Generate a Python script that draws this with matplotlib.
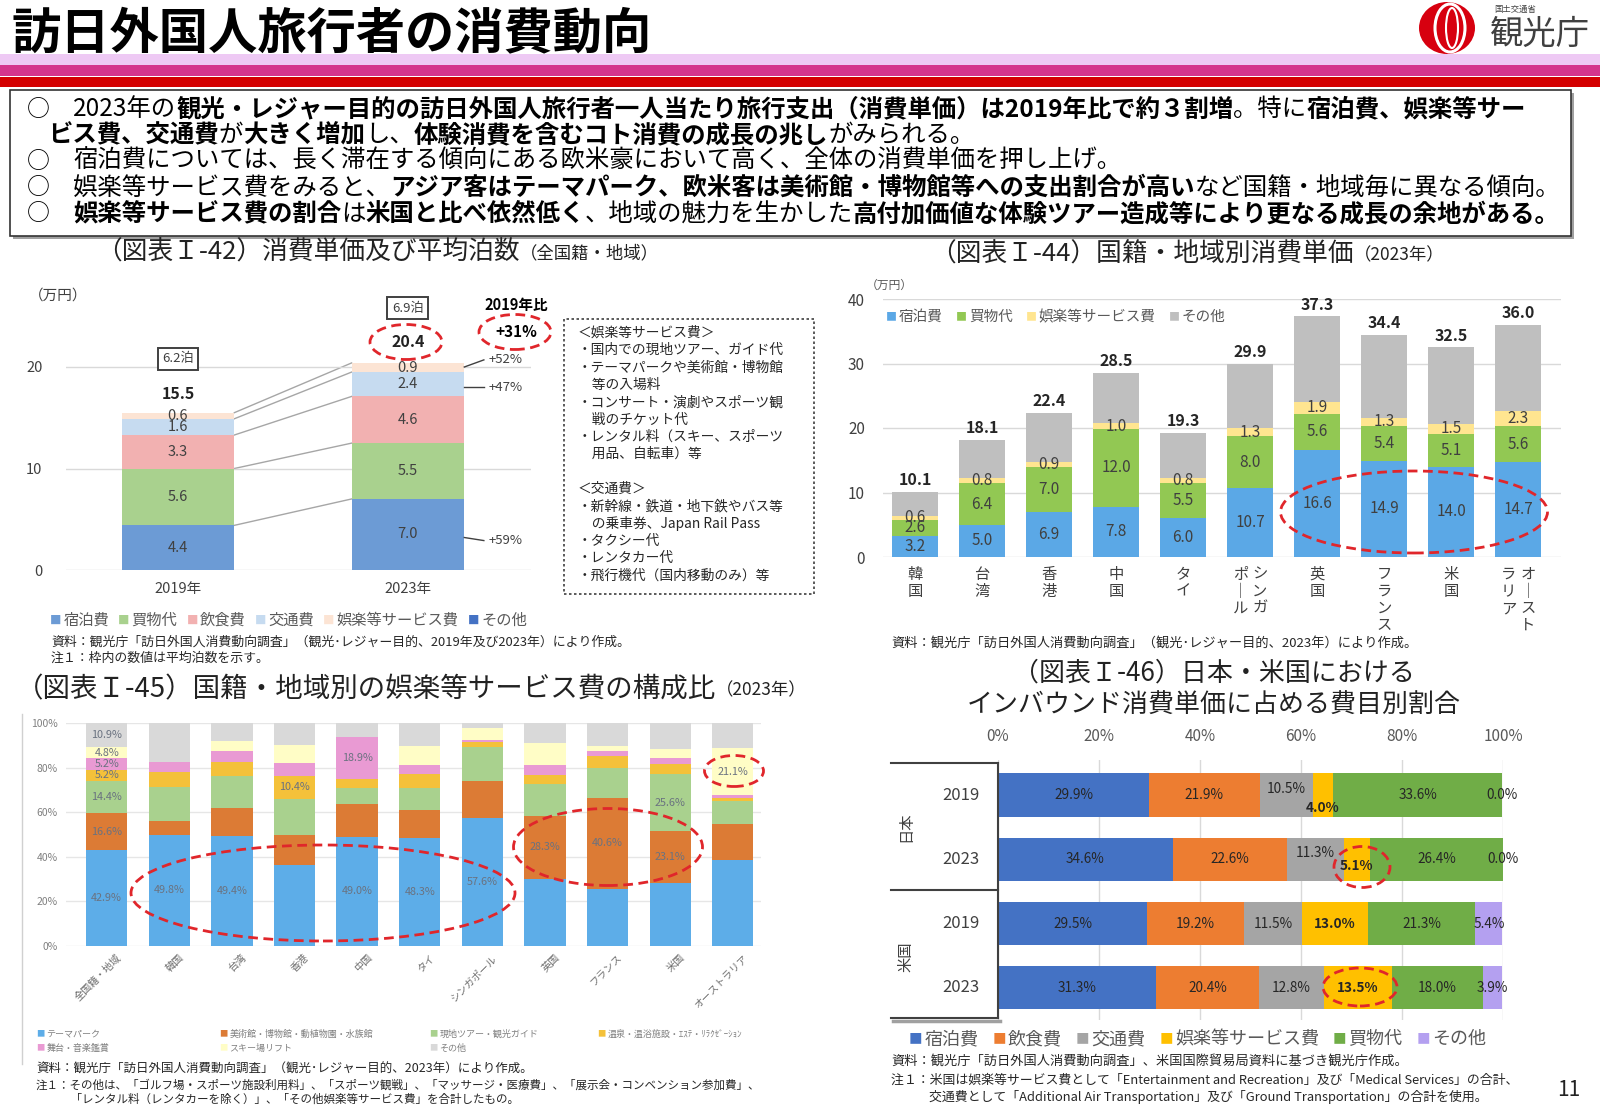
import numpy as np
import matplotlib
matplotlib.use('Agg')
import matplotlib.pyplot as plt
from matplotlib.patches import Rectangle, Ellipse
from matplotlib.lines import Line2D

plt.rcParams['font.family'] = ['Noto Sans CJK JP', 'DejaVu Sans']

# ---- data: chart I-42 (万円)
years42 = ['2019年', '2023年']
names42 = ['宿泊費', '買物代', '飲食費', '交通費', '娯楽等サービス費', 'その他']
stay42 = [4.4, 7.0]
shop42 = [5.6, 5.5]
food42 = [3.3, 4.6]
trans42 = [1.6, 2.4]
ent42 = [0.6, 0.9]
other42 = [0.0, 0.0]
total42 = [15.5, 20.4]
nights42 = ['6.2泊', '6.9泊']

# ---- data: chart I-44 (万円, 2023)
countries44 = ['韓国', '台湾', '香港', '中国', 'タイ', 'シンガポール', '英国', 'フランス', '米国', 'オーストラリア']
tate44 = [['韓国'], ['台湾'], ['香港'], ['中国'], ['タイ'], ['シンガ', 'ポール'], ['英国'], ['フランス'], ['米国'], ['オースト', 'ラリア']]
names44 = ['宿泊費', '買物代', '娯楽等サービス費', 'その他']
stay44 = [3.2, 5.0, 6.9, 7.8, 6.0, 10.7, 16.6, 14.9, 14.0, 14.7]
shop44 = [2.6, 6.4, 7.0, 12.0, 5.5, 8.0, 5.6, 5.4, 5.1, 5.6]
ent44 = [0.6, 0.8, 0.9, 1.0, 0.8, 1.3, 1.9, 1.3, 1.5, 2.3]
total44 = [10.1, 18.1, 22.4, 28.5, 19.3, 29.9, 37.3, 34.4, 32.5, 36.0]

# ---- data: chart I-45 (%, 2023)
cats45 = ['全国籍・地域', '韓国', '台湾', '香港', '中国', 'タイ', 'シンガポール', '英国', 'フランス', '米国', 'オーストラリア']
names45 = ['テーマパーク', '美術館・博物館・動植物園・水族館', '現地ツアー・観光ガイド',
           '温泉・温浴施設・ｴｽﾃ・ﾘﾗｸｾﾞｰｼｮﾝ', '舞台・音楽鑑賞', 'スキー場リフト', 'その他']
theme45 = [42.9, 49.8, 49.4, 36.3, 49.0, 48.3, 57.6, 30.2, 25.7, 28.4, 38.5]
museum45 = [16.6, 6.2, 12.5, 13.7, 14.7, 12.7, 16.6, 28.3, 40.6, 23.1, 16.0]
tour45 = [14.4, 15.5, 14.2, 16.0, 7.2, 10.0, 14.9, 14.2, 13.6, 25.6, 10.4]
onsen45 = [5.2, 6.7, 6.3, 10.4, 4.0, 6.0, 2.2, 4.2, 5.2, 4.5, 1.5]
stage45 = [5.2, 4.2, 4.9, 5.7, 18.9, 4.0, 0.9, 4.1, 2.2, 2.7, 1.1]
ski45 = [4.8, 0.3, 4.5, 8.2, 0.0, 8.6, 5.6, 10.0, 2.3, 4.1, 21.1]
other45 = [10.9, 17.3, 8.2, 9.7, 6.2, 10.4, 2.2, 9.0, 10.4, 11.6, 11.4]
# (bar, series) pairs that carry a value label
shown45 = [(0, 0), (0, 1), (0, 2), (0, 3), (0, 4), (0, 5), (0, 6), (1, 0), (2, 0), (3, 3), (4, 0), (4, 4),
           (5, 0), (6, 0), (7, 1), (8, 1), (9, 1), (9, 2), (10, 5)]

# ---- data: chart I-46 (%)
groups46 = ['日本', '米国']
rows46 = ['2019', '2023', '2019', '2023']
names46 = ['宿泊費', '飲食費', '交通費', '娯楽等サービス費', '買物代', 'その他']
stay46 = [29.9, 34.6, 29.5, 31.3]
food46 = [21.9, 22.6, 19.2, 20.4]
trans46 = [10.5, 11.3, 11.5, 12.8]
ent46 = [4.0, 5.1, 13.0, 13.5]
shop46 = [33.6, 26.4, 21.3, 18.0]
other46 = [0.0, 0.0, 5.4, 3.9]

W, H = 1600, 1108
fig = plt.figure(figsize=(16, 11.08), dpi=100)
R = fig.canvas.get_renderer()
RED = '#E0262B'
DARK = '#404040'


def T(x, y, s, **kw):
    kw.setdefault('va', 'center')
    return fig.text(x / W, 1 - y / H, s, **kw)


def rich(x, y, parts, size, color='black'):
    for p in parts:
        s, b = p[0], p[1]
        sz = p[2] if len(p) > 2 else size
        t = T(x, y, s, fontsize=sz, fontweight='bold' if b else 'normal', color=color)
        x += t.get_window_extent(R).width
    return x


def legend_item(x, y, lab, col, size, tc='#595959', sq=None):
    t = T(x, y, '■', fontsize=sq or size * 0.75, color=col)
    x += t.get_window_extent(R).width + 2
    t = T(x, y, lab, fontsize=size, color=tc)
    return x + t.get_window_extent(R).width


def legend_row(x, y, labs, cols, size, gap, tc='#595959'):
    for lab, col in zip(labs, cols):
        x = legend_item(x, y, lab, col, size, tc) + gap


def rect(x0, y0, x1, y1, **kw):
    fig.add_artist(Rectangle((x0 / W, 1 - y1 / H), (x1 - x0) / W, (y1 - y0) / H,
                             transform=fig.transFigure, **kw))


def line(xs, ys, **kw):
    fig.add_artist(Line2D([x / W for x in xs], [1 - y / H for y in ys], transform=fig.transFigure, **kw))


def ell(cx, cy, w, h, lw=2.0):
    fig.add_artist(Ellipse((cx / W, 1 - cy / H), w / W, h / H, transform=fig.transFigure,
                           fill=False, ec=RED, ls=(0, (3.5, 2)), lw=lw, zorder=10))


# ================= header
rect(0, 54, W, 65, fc='#EEC9F4', ec='none')
rect(0, 65, W, 76, fc='#D4358C', ec='none')
rect(0, 77, W, 87, fc='#D40000', ec='none')
T(12, 34, '訪日外国人旅行者の消費動向', fontsize=35.5, fontweight='bold', zorder=5)
fig.add_artist(Ellipse((1447 / W, 1 - 28 / H), 56 / W, 52 / H, transform=fig.transFigure, fc='#D7000F', ec='none'))
fig.add_artist(Ellipse((1450 / W, 1 - 28 / H), 30 / W, 48 / H, transform=fig.transFigure, fill=False, ec='white', lw=2.2))
fig.add_artist(Ellipse((1452 / W, 1 - 28 / H), 12 / W, 40 / H, transform=fig.transFigure, fill=False, ec='white', lw=1.5))
T(1494, 9, '国土交通省', fontsize=6, color='#404040')
T(1490, 34, '観光庁', fontsize=24, color='#404040')

# ================= summary box
rect(13, 93, 1574, 239, fc='#A0A0A0', ec='none')
rect(10, 90, 1571, 236, fc='white', ec='#333333', lw=1.2)
bx = 73
box_lines = [
    (109, True, [('2023年の', False), ('観光・レジャー目的の訪日外国人旅行者一人当たり旅行支出（消費単価）は2019年比で約３割増', True),
                 ('。特に', False), ('宿泊費、娯楽等サー', True)]),
    (135, False, [('ビス費、交通費', True), ('が', False), ('大きく増加', True), ('し、', False),
                  ('体験消費を含むコト消費の成長の兆し', True), ('がみられる。', False)]),
    (161, True, [('宿泊費については、長く滞在する傾向にある欧米豪において高く、全体の消費単価を押し上げ。', False)]),
    (188, True, [('娯楽等サービス費をみると、', False), ('アジア客はテーマパーク、欧米客は美術館・博物館等への支出割合が高い', True),
                 ('など国籍・地域毎に異なる傾向。', False)]),
    (214, True, [('娯楽等サービス費の割合', True), ('は', False), ('米国と比べ依然低く', True), ('、地域の魅力を生かした', False),
                 ('高付加価値な体験ツアー造成等により更なる成長の余地がある。', True)]),
]
for y, bullet, parts in box_lines:
    if bullet:
        T(27, y, '○', fontsize=16.5)
        rich(bx, y, parts, 17.6)
    else:
        rich(48, y, parts, 17.6)

# ================= chart I-42
rich(96, 253, [('（図表Ｉ-42）消費単価及び平均泊数', False, 18.5), ('（全国籍・地域）', False, 12.5)], 18.5, color='#222222')
ax1 = fig.add_axes([66 / W, 1 - 570 / H, 465 / W, 243.6 / H])
x42 = np.arange(len(years42))
cols42 = ['#6C9BD5', '#A9D18E', '#F2B1B1', '#C6DBF0', '#FCE4D4', '#4472C4']
bw = 0.49
bottom = np.zeros(len(x42))
tops = []
for vals, c in zip([stay42, shop42, food42, trans42, ent42, other42], cols42):
    vals = np.array(vals)
    ax1.bar(x42, vals, bw, bottom=bottom, color=c, zorder=2)
    for i in range(len(x42)):
        if vals[i] > 0:
            ax1.text(x42[i], bottom[i] + vals[i] / 2, f'{vals[i]:.1f}', ha='center', va='center',
                     fontsize=10.5, color=DARK, zorder=3)
    bottom = bottom + vals
    tops.append(bottom.copy())
for b in tops[:5]:
    ax1.plot([bw / 2, 1 - bw / 2], [b[0], b[1]], color='#A6A6A6', lw=1, zorder=1)
ax1.set_ylim(0, 24)
ax1.set_xlim(-0.487, 1.535)
ax1.set_yticks([0, 10, 20])
ax1.set_xticks(x42)
ax1.set_xticklabels(years42)
ax1.tick_params(length=0, labelsize=10.5, labelcolor=DARK)
ax1.tick_params(axis='y', pad=17)
ax1.tick_params(axis='x', pad=9)
ax1.grid(axis='y', color='#D9D9D9', lw=1, zorder=0)
for s in ax1.spines.values():
    s.set_visible(False)
for i in range(2):
    ax1.text(x42[i], [20.8, 25.8][i], nights42[i], ha='center', va='center', fontsize=9.5, color=DARK,
             bbox=dict(boxstyle='square,pad=0.35', fc='white', ec='#404040', lw=1.4), clip_on=False)
    ax1.text(x42[i], total42[i] + [1.8, 2.1][i], f'{total42[i]:.1f}', ha='center', va='center',
             fontsize=11.5, fontweight='bold', color='#222222', clip_on=False)
ax1.text(1.47, 26.1, '2019年比', ha='center', va='center', fontsize=10.5, fontweight='bold', clip_on=False)
ax1.text(1.47, 23.4, '+31%', ha='center', va='center', fontsize=11, fontweight='bold', clip_on=False)
for y0, y1, lab in [(3.2, 2.9, '+59%'), (18.0, 18.0, '+47%'), (20.0, 20.7, '+52%')]:
    ax1.plot([1 + bw / 2, 1.33], [y0, y1], color='#404040', lw=1, clip_on=False)
    ax1.text(1.35, y1, lab, ha='left', va='center', fontsize=9.5, color=DARK, clip_on=False)
T(29, 296, '（万円）', fontsize=10.5, color=DARK)
ell(406, 342, 72, 35)
ell(515, 332, 72, 35)

rect(564, 319, 814, 594, fill=False, ec='#404040', ls=(0, (1.5, 1.5)), lw=1.2)
notes42 = ['＜娯楽等サービス費＞', '・国内での現地ツアー、ガイド代', '・テーマパークや美術館・博物館', '　等の入場料',
           '・コンサート・演劇やスポーツ観', '　戦のチケット代', '・レンタル料（スキー、スポーツ', '　用品、自転車）等', '',
           '＜交通費＞', '・新幹線・鉄道・地下鉄やバス等', '　の乗車券、Japan Rail Pass', '・タクシー代', '・レンタカー代',
           '・飛行機代（国内移動のみ）等']
for k, s in enumerate(notes42):
    T(578, 333 + k * 17.3, s, fontsize=9.9, color='#262626')

legend_row(50, 620, names42, cols42, 11, 9)
T(51, 642, '資料：観光庁「訪日外国人消費動向調査」（観光･レジャー目的、2019年及び2023年）により作成。', fontsize=9.3, color='#262626')
T(51, 658, '注１：枠内の数値は平均泊数を示す。', fontsize=9.3, color='#262626')

# ================= chart I-44
rich(930, 255, [('（図表Ｉ-44）国籍・地域別消費単価', False, 18.5), ('（2023年）', False, 12.5)], 18.5, color='#222222')
ax2 = fig.add_axes([883 / W, 1 - 557 / H, 678 / W, 258 / H])
x44 = np.arange(len(countries44))
cols44 = ['#5BA8E6', '#92C853', '#FFE590', '#BFBFBF']
other44 = np.array(total44) - np.array(stay44) - np.array(shop44) - np.array(ent44)
bottom = np.zeros(len(x44))
for k, (vals, c) in enumerate(zip([stay44, shop44, ent44, other44], cols44)):
    vals = np.array(vals)
    ax2.bar(x44, vals, 0.68, bottom=bottom, color=c, zorder=2)
    if k < 3:
        for i in range(len(x44)):
            ax2.text(x44[i], bottom[i] + vals[i] / 2, f'{vals[i]:.1f}', ha='center', va='center',
                     fontsize=11, color=DARK, zorder=3)
    bottom = bottom + vals
for i in range(len(x44)):
    ax2.text(x44[i], total44[i] + 0.6, f'{total44[i]:.1f}', ha='center', va='bottom', fontsize=11.5,
             fontweight='bold', color='#262626', clip_on=False)
    cols = tate44[i]
    offs = [0.0] if len(cols) == 1 else [0.145, -0.145]
    for s, dx in zip(cols, offs):
        ax2.text(x44[i] + dx, -1.4, '\n'.join(s.replace('ー', '｜')), ha='center', va='top', fontsize=11,
                 color=DARK, linespacing=1.0, clip_on=False)
ax2.set_ylim(0, 40)
ax2.set_xlim(-0.478, 9.64)
ax2.set_yticks([0, 10, 20, 30, 40])
ax2.set_xticks([])
ax2.tick_params(length=0, labelsize=11, labelcolor=DARK, pad=13)
ax2.grid(axis='y', color='#D9D9D9', lw=1, zorder=0)
for s in ax2.spines.values():
    s.set_visible(False)
T(866, 285, '（万円）', fontsize=8.5, color='#595959')
legend_row(886, 317, names44, cols44, 10.5, 13)
ell(1414, 512, 267, 82)
T(891, 643, '資料：観光庁「訪日外国人消費動向調査」（観光･レジャー目的、2023年）により作成。', fontsize=9.5, color='#262626')

# ================= chart I-45
rich(16, 690, [('（図表Ｉ-45）国籍・地域別の娯楽等サービス費の構成比', False, 19.8), ('（2023年）', False, 12.5)], 19.8, color='#222222')
line([22, 22], [714, 1064], color='#D0D0D0', lw=1)
ax3 = fig.add_axes([66 / W, 1 - 946 / H, 695 / W, 223 / H])
x45 = np.arange(len(cats45))
cols45 = ['#5DADE8', '#DC7B35', '#A9D18E', '#F4C13A', '#E99AD3', '#FFFDC6', '#D9D9D9']
series45 = [theme45, museum45, tour45, onsen45, stage45, ski45, other45]
bottom = np.zeros(len(x45))
for k, (vals, c) in enumerate(zip(series45, cols45)):
    vals = np.array(vals)
    ax3.bar(x45, vals, 0.66, bottom=bottom, color=c, zorder=2)
    for i in range(len(x45)):
        if (i, k) in shown45:
            ax3.text(x45[i], bottom[i] + vals[i] / 2, f'{vals[i]:.1f}%', ha='center', va='center',
                     fontsize=7.8, color='#6A7280', zorder=3)
    bottom = bottom + vals
ax3.set_ylim(0, 100)
ax3.set_xlim(-0.65, 10.45)
ax3.set_yticks(range(0, 101, 20))
ax3.set_yticklabels([f'{v}%' for v in range(0, 101, 20)])
ax3.set_xticks([])
ax3.tick_params(length=0, labelsize=7.5, labelcolor='#808080', pad=6)
ax3.grid(axis='y', color='#E6E6E6', lw=1, zorder=0)
for s in ax3.spines.values():
    s.set_visible(False)
for i in range(len(x45)):
    ax3.text(x45[i] + 0.15, -3, cats45[i], rotation=45, ha='right', va='top', fontsize=7.3,
             color='#6F6F6F', rotation_mode='anchor', clip_on=False)
ell(323, 893, 384, 96)
ell(608, 847, 189, 77)
ell(734, 771, 59, 31)
leg45 = [(36, 1034), (219, 1034), (429, 1034), (597, 1034), (36, 1048), (219, 1048), (429, 1048)]
for (lx, ly), lab, col in zip(leg45, names45, cols45):
    legend_item(lx, ly, lab, col, 6.5, tc='#808080', sq=6)
T(36, 1069, '資料：観光庁「訪日外国人消費動向調査」（観光･レジャー目的、2023年）により作成。', fontsize=9.0, color='#262626')
T(36, 1085, '注１：その他は、「ゴルフ場・スポーツ施設利用料」、「スポーツ観戦」、「マッサージ・医療費」、「展示会・コンベンション参加費」、',
  fontsize=8.3, color='#262626')
T(36, 1099, '　　　「レンタル料（レンタカーを除く）」、「その他娯楽等サービス費」を合計したもの。', fontsize=8.3, color='#262626')

# ================= chart I-46
T(1214, 673, '（図表Ｉ-46）日本・米国における', ha='center', fontsize=18.7, color='#222222')
T(1214, 705, 'インバウンド消費単価に占める費目別割合', ha='center', fontsize=18.7, color='#222222')
ax4 = fig.add_axes([998 / W, 1 - 1020 / H, 505 / W, 260 / H])
y46 = np.arange(len(rows46))
cols46 = ['#4472C4', '#ED7D31', '#A5A5A5', '#FFC000', '#70AD47', '#B4A0F0']
left = np.zeros(len(y46))
for k, (vals, c) in enumerate(zip([stay46, food46, trans46, ent46, shop46, other46], cols46)):
    vals = np.array(vals)
    ax4.barh(y46, vals, 0.67, left=left, color=c, zorder=2)
    for i in range(len(y46)):
        dy = 0.0
        if k == 2 and i < 2:
            dy = -0.1
        if k == 3 and i < 2:
            dy = [0.2, 0.1][i]
        ax4.text(left[i] + vals[i] / 2, y46[i] + dy, f'{vals[i]:.1f}%', ha='center', va='center',
                 fontsize=9.8, color='#262626', fontweight='bold' if k == 3 else 'normal', zorder=3, clip_on=False)
    left = left + vals
ax4.set_xlim(0, 100)
ax4.set_ylim(3.5, -0.544)
ax4.xaxis.tick_top()
ax4.set_xticks(range(0, 101, 20))
ax4.set_xticklabels([f'{v}%' for v in range(0, 101, 20)])
ax4.set_yticks([])
ax4.tick_params(length=0, labelsize=11, labelcolor='#595959', pad=11)
ax4.grid(axis='x', color='#D9D9D9', lw=1, zorder=0)
for s in ax4.spines.values():
    s.set_visible(False)
row_px = [795, 859, 923, 988]
for yy, lab in zip(row_px, rows46):
    T(961, yy, lab, ha='center', fontsize=12, color=DARK)
for yy, g in zip([827, 957], groups46):
    T(906, yy, g, ha='center', fontsize=11, color=DARK, rotation=90)
line([891, 998], [763, 763], color='#404040', lw=1.5)
line([891, 998], [890, 890], color='#404040', lw=1.5)
line([893, 1000], [1021, 1021], color='#A0A0A0', lw=2.5)
line([891, 998], [1018, 1018], color='#404040', lw=1.5)
line([998, 998], [763, 1018], color='#404040', lw=1.5)
ell(1362, 867, 56, 41)
ell(1360, 987, 74, 38)
legend_row(909, 1039, names46, cols46, 13, 14)
T(891, 1061, '資料：観光庁「訪日外国人消費動向調査」、米国国際貿易局資料に基づき観光庁作成。', fontsize=9.5, color='#262626')
T(891, 1080, '注１：米国は娯楽等サービス費として「Entertainment and Recreation」及び「Medical Services」の合計、',
  fontsize=9.3, color='#262626')
T(929, 1097, '交通費として「Additional Air Transportation」及び「Ground Transportation」の合計を使用。',
  fontsize=9.3, color='#262626')
T(1569, 1090, '11', ha='center', fontsize=15, color='#222222')

fig.savefig('out.png', dpi=100)
